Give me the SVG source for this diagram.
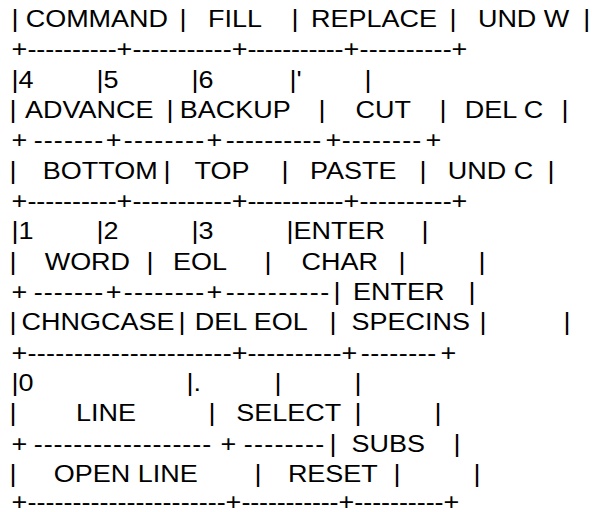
<svg xmlns="http://www.w3.org/2000/svg" width="592" height="512" viewBox="0 0 592 512">
  <style>
    text { font-family: "Liberation Sans", Arial, sans-serif; font-size: 24px; fill: #000; white-space: pre; }
    .rule { letter-spacing: 0; }
  </style>
  <rect width="592" height="512" fill="#fff"/>
  <!-- keypad layout table, drawn in a horizontally widened text grid -->
  <g id="keypad" transform="scale(1.125,1)">
    <g id="row1">
      <text y="27"><tspan x="10.2">|</tspan><tspan x="22.8">COMMAND</tspan><tspan x="159.6">|</tspan><tspan x="184.8">FILL</tspan><tspan x="259.1">|</tspan><tspan x="276.4">REPLACE</tspan><tspan x="399.6">|</tspan><tspan x="424.8">UND W</tspan><tspan x="518.4">|</tspan></text>
    </g>
    <g id="rule1">
      <text y="57.3"><tspan x="10.3">+</tspan><tspan x="103.6">+</tspan><tspan x="205.9">+</tspan><tspan x="305.4">+</tspan><tspan x="401.4">+</tspan></text>
      <text class="rule" x="24.4" y="57.3" textLength="79.3" lengthAdjust="spacing">----------</text>
      <text class="rule" x="117.7" y="57.3" textLength="88.2" lengthAdjust="spacing">-----------</text>
      <text class="rule" x="219.9" y="57.3" textLength="85.5" lengthAdjust="spacing">-----------</text>
      <text class="rule" x="319.5" y="57.3" textLength="82.0" lengthAdjust="spacing">----------</text>
    </g>
    <g id="row2">
      <text y="87.7"><tspan x="10.2">|4</tspan><tspan x="85.8">|5</tspan><tspan x="170.2">|6</tspan><tspan x="257.3">|'</tspan><tspan x="324.0">|</tspan></text>
      <text y="118"><tspan x="8.4">|</tspan><tspan x="22.2">ADVANCE</tspan><tspan x="148.0">|</tspan><tspan x="159.9">BACKUP</tspan><tspan x="283.1">|</tspan><tspan x="316.1">CUT</tspan><tspan x="390.7">|</tspan><tspan x="413.2">DEL C</tspan><tspan x="499.1">|</tspan></text>
    </g>
    <g id="rule2">
      <text y="148.3"><tspan x="10.3">+</tspan><tspan x="93.9">+</tspan><tspan x="183.6">+</tspan><tspan x="289.4">+</tspan><tspan x="378.3">+</tspan></text>
      <text class="rule" x="30.0" y="148.3" textLength="61.7" lengthAdjust="spacing">-------</text>
      <text class="rule" x="110.0" y="148.3" textLength="71.5" lengthAdjust="spacing">--------</text>
      <text class="rule" x="200.7" y="148.3" textLength="84.8" lengthAdjust="spacing">----------</text>
      <text class="rule" x="303.8" y="148.3" textLength="70.6" lengthAdjust="spacing">--------</text>
    </g>
    <g id="row3">
      <text y="178.7"><tspan x="8.4">|</tspan><tspan x="38.1">BOTTOM</tspan><tspan x="145.3">|</tspan><tspan x="172.8">TOP</tspan><tspan x="250.2">|</tspan><tspan x="275.5">PASTE</tspan><tspan x="372.9">|</tspan><tspan x="398.1">UND C</tspan><tspan x="486.7">|</tspan></text>
    </g>
    <g id="rule3">
      <text y="209"><tspan x="10.3">+</tspan><tspan x="103.6">+</tspan><tspan x="205.9">+</tspan><tspan x="305.4">+</tspan><tspan x="401.4">+</tspan></text>
      <text class="rule" x="24.4" y="209" textLength="79.3" lengthAdjust="spacing">----------</text>
      <text class="rule" x="117.7" y="209" textLength="88.2" lengthAdjust="spacing">-----------</text>
      <text class="rule" x="219.9" y="209" textLength="85.5" lengthAdjust="spacing">-----------</text>
      <text class="rule" x="319.5" y="209" textLength="82.0" lengthAdjust="spacing">----------</text>
    </g>
    <g id="row4">
      <text y="239.3"><tspan x="10.2">|1</tspan><tspan x="85.8">|2</tspan><tspan x="170.2">|3</tspan><tspan x="254.7">|ENTER</tspan><tspan x="374.7">|</tspan></text>
      <text y="269.7"><tspan x="8.4">|</tspan><tspan x="39.7">WORD</tspan><tspan x="130.2">|</tspan><tspan x="153.7">EOL</tspan><tspan x="235.1">|</tspan><tspan x="268.1">CHAR</tspan><tspan x="354.2">|</tspan><tspan x="425.3">|</tspan></text>
    </g>
    <g id="rule4">
      <text y="300"><tspan x="10.3">+</tspan><tspan x="93.9">+</tspan><tspan x="183.6">+</tspan><tspan x="296.4">|</tspan><tspan x="313.7">ENTER</tspan><tspan x="416.4">|</tspan></text>
      <text class="rule" x="30.0" y="300" textLength="61.7" lengthAdjust="spacing">-------</text>
      <text class="rule" x="110.0" y="300" textLength="71.5" lengthAdjust="spacing">--------</text>
      <text class="rule" x="200.7" y="300" textLength="91.9" lengthAdjust="spacing">----------</text>
    </g>
    <g id="row5">
      <text y="330.3"><tspan x="8.4">|</tspan><tspan x="19.2">CHNGCASE</tspan><tspan x="158.7">|</tspan><tspan x="173.2">DEL EOL</tspan><tspan x="292.9">|</tspan><tspan x="312.4">SPECINS</tspan><tspan x="426.2">|</tspan><tspan x="500.9">|</tspan></text>
    </g>
    <g id="rule5">
      <text y="360.7"><tspan x="10.3">+</tspan><tspan x="205.9">+</tspan><tspan x="303.6">+</tspan><tspan x="391.6">+</tspan></text>
      <text class="rule" x="24.4" y="360.7" textLength="181.5" lengthAdjust="spacing">----------------------</text>
      <text class="rule" x="219.9" y="360.7" textLength="83.7" lengthAdjust="spacing">----------</text>
      <text class="rule" x="320.7" y="360.7" textLength="67.0" lengthAdjust="spacing">--------</text>
    </g>
    <g id="row6">
      <text y="391"><tspan x="10.2">|0</tspan><tspan x="165.8">|.</tspan><tspan x="244.0">|</tspan><tspan x="315.1">|</tspan></text>
      <text y="421.3"><tspan x="8.4">|</tspan><tspan x="67.5">LINE</tspan><tspan x="185.3">|</tspan><tspan x="210.1">SELECT</tspan><tspan x="315.1">|</tspan><tspan x="386.2">|</tspan></text>
    </g>
    <g id="rule6">
      <text y="451.7"><tspan x="10.3">+</tspan><tspan x="196.1">+</tspan><tspan x="292.9">|</tspan><tspan x="312.4">SUBS</tspan><tspan x="403.1">|</tspan></text>
      <text class="rule" x="30.0" y="451.7" textLength="157.7" lengthAdjust="spacing">------------------</text>
      <text class="rule" x="216.7" y="451.7" textLength="71.5" lengthAdjust="spacing">--------</text>
    </g>
    <g id="row7">
      <text y="482"><tspan x="8.4">|</tspan><tspan x="47.7">OPEN LINE</tspan><tspan x="226.2">|</tspan><tspan x="255.9">RESET</tspan><tspan x="349.8">|</tspan><tspan x="420.9">|</tspan></text>
    </g>
    <g id="rule7">
      <text y="510"><tspan x="10.3">+</tspan><tspan x="200.5">+</tspan><tspan x="301.0">+</tspan><tspan x="394.3">+</tspan></text>
      <text class="rule" x="24.4" y="510" textLength="176.2" lengthAdjust="spacing">----------------------</text>
      <text class="rule" x="214.6" y="510" textLength="86.4" lengthAdjust="spacing">-----------</text>
      <text class="rule" x="315.0" y="510" textLength="79.3" lengthAdjust="spacing">----------</text>
    </g>
  </g>
</svg>
